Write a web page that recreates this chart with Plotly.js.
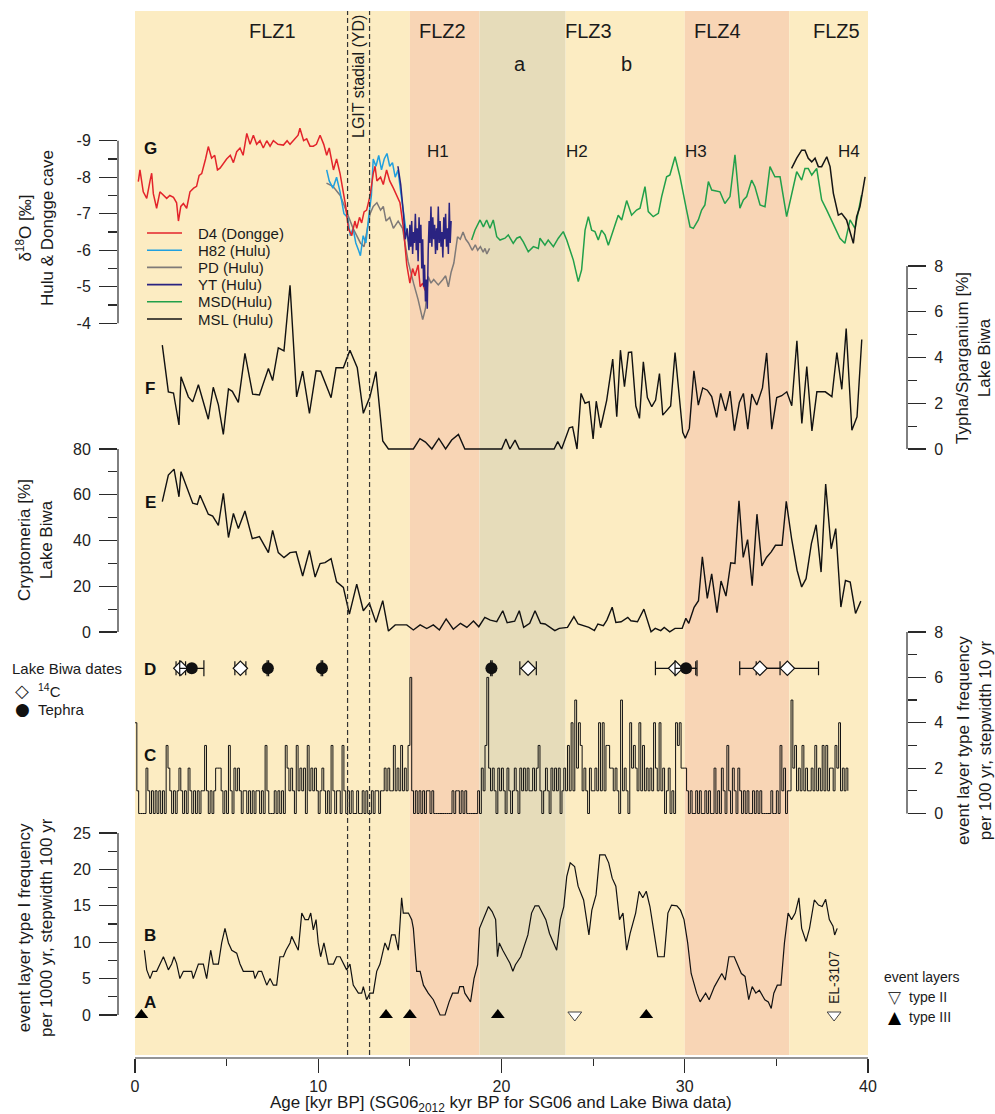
<!DOCTYPE html>
<html><head><meta charset="utf-8">
<script src="https://cdn.plot.ly/plotly-3.0.1.min.js"></script>
<style>body{margin:0;background:#fff}#chart{width:995px;height:1114px}</style>
</head><body><div id="chart"></div>
<script>
// ---------------- DATA ----------------
// Panel G: delta18O (per mil), [age kyr BP, value]
const d4Dongge = [[0.18,-7.88],[0.27,-8.2],[0.45,-7.6],[0.64,-7.42],[0.82,-7.9],[0.91,-8.11],[1.0,-7.55],[1.18,-7.15],[1.36,-7.6],[1.55,-7.5],[1.73,-7.42],[1.9,-7.5],[2.1,-7.45],[2.27,-7.3],[2.37,-6.8],[2.5,-7.2],[2.64,-7.28],[2.82,-7.15],[3.0,-7.6],[3.2,-7.7],[3.36,-7.75],[3.5,-8.05],[3.64,-8.1],[3.85,-8.5],[4.0,-8.84],[4.18,-8.52],[4.35,-8.6],[4.5,-8.2],[4.64,-8.25],[5.0,-8.5],[5.2,-8.6],[5.37,-8.4],[5.55,-8.7],[5.73,-8.8],[5.9,-8.6],[6.1,-9.2],[6.28,-8.9],[6.46,-9.15],[6.64,-8.9],[6.82,-9.0],[7.0,-8.8],[7.19,-9.0],[7.37,-8.85],[7.55,-9.0],[7.8,-8.9],[8.1,-8.88],[8.3,-9.0],[8.46,-8.9],[8.7,-9.05],[8.9,-9.15],[9.0,-9.34],[9.2,-9.0],[9.37,-9.05],[9.55,-8.85],[9.73,-8.85],[9.9,-8.9],[10.1,-9.15],[10.3,-8.9],[10.46,-8.6],[10.6,-8.8],[10.83,-8.2],[11.0,-8.5],[11.19,-8.1],[11.37,-7.6],[11.5,-7.2],[11.64,-6.6],[11.83,-6.4],[12.0,-6.8],[12.1,-6.6],[12.25,-6.9],[12.37,-6.75],[12.5,-7.05],[12.64,-7.1],[12.83,-7.5],[13.0,-8.1],[13.1,-8.3],[13.2,-7.9],[13.4,-8.0],[13.55,-7.8],[13.73,-8.2],[13.9,-7.9],[14.1,-7.7],[14.3,-7.5],[14.46,-7.3],[14.65,-6.6],[14.83,-5.6],[15.0,-5.1],[15.15,-5.5],[15.28,-5.3],[15.45,-5.6],[15.56,-5.0],[15.7,-5.1],[15.83,-4.9]];
const h82Hulu = [[10.46,-8.2],[10.6,-7.9],[10.8,-7.7],[11.0,-8.0],[11.19,-7.6],[11.4,-7.0],[11.6,-6.9],[11.75,-6.4],[11.9,-6.6],[12.05,-6.2],[12.2,-6.0],[12.3,-5.85],[12.45,-6.4],[12.6,-6.2],[12.75,-6.9],[12.9,-7.5],[13.0,-8.5],[13.15,-8.3],[13.3,-8.6],[13.45,-8.2],[13.6,-8.5],[13.75,-8.65],[13.9,-8.3],[14.05,-8.4],[14.2,-8.0],[14.35,-8.2],[14.5,-7.6],[14.65,-7.0],[14.8,-6.5],[15.0,-6.1]];
const pdHulu = [[10.45,-7.84],[10.8,-7.75],[11.2,-7.5],[11.6,-7.0],[11.9,-6.6],[12.3,-6.2],[12.5,-6.1],[12.65,-6.5],[12.83,-7.0],[13.0,-7.2],[13.2,-7.3],[13.4,-7.1],[13.55,-7.2],[13.7,-6.8],[13.9,-6.9],[14.1,-6.6],[14.36,-6.8],[14.6,-6.6],[14.9,-5.7],[15.2,-5.1],[15.45,-4.65],[15.7,-4.1],[15.85,-4.4],[16.0,-5.28],[16.15,-5.1],[16.3,-5.2],[16.55,-5.05],[16.8,-5.2],[16.95,-5.3],[17.1,-5.0],[17.25,-5.4],[17.4,-5.65],[17.6,-6.37],[17.75,-6.3],[17.9,-6.5],[18.05,-6.3],[18.2,-6.2],[18.4,-6.0],[18.57,-6.15],[18.7,-6.0],[18.85,-6.1],[19.0,-5.95],[19.1,-6.05],[19.2,-5.9],[19.35,-6.05]];
const ytHulu = [[14.35,-8.3],[14.5,-7.8],[14.65,-7.0],[14.75,-6.3],[14.85,-6.6],[14.95,-6.0],[15.0,-6.7],[15.05,-6.1],[15.1,-6.8],[15.15,-5.9],[15.2,-6.5],[15.25,-6.2],[15.3,-7.0],[15.35,-6.0],[15.4,-6.6],[15.45,-5.7],[15.5,-6.9],[15.55,-6.2],[15.6,-6.7],[15.65,-5.5],[15.7,-6.3],[15.75,-5.0],[15.8,-5.6],[15.85,-4.6],[15.9,-5.2],[15.95,-4.4],[16.0,-6.0],[16.05,-6.8],[16.1,-6.2],[16.15,-7.2],[16.2,-6.1],[16.25,-6.9],[16.3,-6.3],[16.35,-6.7],[16.4,-5.9],[16.45,-6.6],[16.5,-6.0],[16.55,-7.2],[16.6,-6.2],[16.65,-6.8],[16.7,-6.1],[16.75,-6.5],[16.8,-5.8],[16.85,-6.9],[16.9,-6.3],[16.95,-7.0],[17.0,-6.1],[17.05,-6.6],[17.1,-5.9],[17.15,-7.3],[17.2,-6.2],[17.25,-6.8]];
const msdHulu = [[18.37,-6.28],[18.55,-6.55],[18.83,-6.83],[19.01,-6.64],[19.19,-6.83],[19.37,-6.6],[19.55,-6.83],[19.74,-6.37],[19.92,-6.28],[20.19,-6.33],[20.37,-6.42],[20.64,-6.19],[20.83,-6.33],[21.01,-6.37],[21.19,-6.23],[21.46,-5.96],[21.74,-6.1],[22.01,-6.05],[22.1,-6.33],[22.37,-6.14],[22.55,-6.28],[22.83,-6.1],[23.1,-6.33],[23.37,-6.51],[23.56,-6.28],[23.92,-5.73],[24.19,-5.14],[24.37,-5.46],[24.56,-6.55],[24.74,-6.92],[24.92,-6.55],[25.1,-6.51],[25.28,-6.28],[25.46,-6.55],[25.65,-6.42],[25.83,-6.14],[26.1,-6.55],[26.37,-6.96],[26.56,-6.83],[26.83,-7.36],[27.1,-6.96],[27.37,-7.1],[27.56,-7.15],[27.83,-7.74],[28.01,-7.06],[28.28,-6.92],[28.56,-7.01],[28.74,-7.47],[29.01,-8.01],[29.19,-8.06],[29.47,-8.56],[29.74,-8.01],[30.1,-7.1],[30.29,-6.64],[30.47,-6.6],[30.74,-6.83],[30.92,-7.1],[31.1,-7.24],[31.29,-7.88],[31.47,-7.65],[31.92,-7.6],[32.19,-7.28],[32.47,-7.47],[32.74,-8.61],[33.01,-7.15],[33.2,-7.38],[33.38,-7.47],[33.65,-7.92],[33.83,-7.74],[34.11,-7.24],[34.38,-7.19],[34.65,-8.29],[34.92,-8.01],[35.2,-8.01],[35.56,-6.92],[35.83,-7.56],[36.11,-8.15],[36.38,-7.92],[36.56,-8.24],[36.74,-8.24],[36.93,-8.06],[37.2,-8.24],[37.47,-7.38],[37.75,-7.1],[38.11,-6.69],[38.47,-6.33],[38.74,-6.19],[39.02,-6.83],[39.29,-6.6],[39.65,-7.51]];
const mslHulu = [[35.83,-8.24],[36.11,-8.52],[36.38,-8.74],[36.56,-8.74],[36.74,-8.52],[36.93,-8.42],[37.11,-8.52],[37.29,-8.29],[37.47,-8.29],[37.75,-8.56],[37.93,-8.29],[38.11,-7.56],[38.38,-6.96],[38.56,-7.01],[38.83,-6.83],[39.2,-6.19],[39.38,-6.92],[39.56,-7.19],[39.84,-8.01]];

// Panel F: Typha/Sparganium [%] Lake Biwa
const typha = [[1.49,4.54],[1.82,2.5],[2.1,2.45],[2.4,1.05],[2.51,3.16],[2.91,2.28],[3.15,2.06],[3.46,2.81],[4.0,1.3],[4.27,2.7],[4.55,1.93],[4.82,0.64],[5.1,2.63],[5.31,2.52],[5.64,2.04],[6.0,4.18],[6.42,2.4],[6.79,2.36],[7.28,3.52],[7.51,2.99],[7.82,4.42],[8.13,4.29],[8.46,7.16],[8.82,2.28],[9.15,3.4],[9.52,1.56],[9.88,3.42],[10.13,3.4],[10.7,2.24],[10.97,3.55],[11.37,3.55],[11.73,4.32],[12.13,3.55],[12.46,1.56],[12.82,2.28],[13.15,3.38],[13.52,0.35],[13.83,0],[15.19,0],[15.55,0.45],[15.85,0.3],[16.2,0],[16.58,0.46],[16.95,0],[17.28,0.39],[17.65,0.64],[18.0,0],[20.01,0],[20.24,0.44],[20.46,0],[20.74,0.39],[20.97,0],[22.87,0],[23.07,0.32],[23.28,0],[23.7,0.93],[23.88,0.97],[24.12,0],[24.34,2.43],[24.56,2.0],[24.78,2.07],[25.0,0.44],[25.17,2.09],[25.41,0.93],[25.74,2.13],[26.07,3.93],[26.29,1.41],[26.49,4.32],[26.71,2.72],[26.93,4.22],[27.1,4.24],[27.33,1.88],[27.53,1.34],[27.74,3.81],[27.96,2.25],[28.2,1.85],[28.41,2.14],[28.62,3.3],[28.8,1.48],[29.23,1.88],[29.47,4.22],[29.89,0.73],[30.03,0.47],[30.25,0.9],[30.5,3.42],[30.74,1.92],[30.98,2.67],[31.23,2.57],[31.47,2.29],[31.74,1.38],[31.96,2.43],[32.23,1.67],[32.47,2.53],[32.71,0.8],[32.98,2.03],[33.2,2.43],[33.44,0.87],[33.66,2.4],[33.93,1.92],[34.24,2.67],[34.47,4.2],[34.75,0.87],[35.02,2.25],[35.29,2.33],[35.57,2.5],[35.84,1.89],[36.12,4.73],[36.39,1.12],[36.66,3.6],[36.94,0.79],[37.21,2.5],[37.67,2.5],[38.03,2.29],[38.3,4.22],[38.57,2.61],[38.81,5.27],[39.12,0.82],[39.4,1.41],[39.66,4.79]];

// Panel E: Cryptomeria [%] Lake Biwa
const cryptomeria = [[1.49,57.0],[1.82,68.6],[2.13,71.2],[2.4,59.1],[2.51,70.1],[2.78,64.6],[3.15,56.3],[3.4,55.8],[3.55,59.8],[4.0,51.5],[4.24,50.7],[4.55,46.6],[4.82,60.6],[5.1,41.3],[5.37,51.8],[5.64,45.2],[6.0,52.9],[6.4,40.8],[6.79,41.7],[7.28,34.7],[7.51,44.4],[7.82,34.7],[8.13,32.5],[8.46,34.7],[8.79,35.1],[9.15,24.5],[9.52,35.7],[9.83,24.0],[10.1,29.9],[10.37,30.3],[10.7,32.1],[11.0,21.9],[11.37,19.5],[11.7,7.8],[12.1,20.9],[12.46,9.3],[12.79,12.6],[13.15,4.2],[13.52,13.7],[13.83,0.4],[14.2,3.1],[14.83,3.1],[15.19,0.9],[15.56,3.1],[15.92,1.5],[16.28,3.1],[16.61,0.9],[16.98,5.7],[17.37,1.2],[17.76,3.8],[18.11,2.0],[18.47,4.8],[18.76,2.3],[19.09,6.4],[19.39,5.2],[19.74,4.5],[20.07,9.3],[20.31,4.1],[20.72,4.7],[20.97,9.3],[21.21,2.0],[21.54,3.8],[21.83,9.3],[22.13,3.8],[22.38,3.5],[22.91,0.6],[23.15,1.6],[23.6,2.0],[23.95,6.7],[24.18,3.5],[24.77,2.0],[25.07,0.6],[25.26,3.5],[25.56,2.8],[25.75,5.2],[26.04,10.8],[26.24,4.2],[26.53,4.5],[26.89,6.4],[27.06,4.9],[27.42,4.5],[27.77,10.0],[28.16,0.1],[28.39,1.6],[28.69,0.6],[28.88,2.0],[29.18,0.1],[29.47,1.6],[29.86,1.6],[30.06,6.0],[30.22,3.8],[30.51,10.8],[30.75,13.7],[30.96,32.9],[31.23,14.7],[31.47,25.4],[31.76,8.5],[31.98,22.3],[32.25,15.7],[32.51,30.3],[32.74,30.0],[32.96,57.4],[33.19,32.6],[33.43,40.4],[33.68,20.2],[33.94,51.5],[34.21,28.9],[34.46,32.6],[34.72,35.0],[34.95,37.9],[35.31,37.9],[35.54,57.1],[35.83,40.8],[36.13,27.0],[36.38,19.7],[36.62,23.3],[36.91,38.6],[37.17,46.9],[37.44,26.2],[37.69,64.7],[37.99,36.4],[38.24,45.2],[38.52,10.9],[38.77,22.5],[39.03,21.8],[39.32,8.1],[39.61,13.5]];

// Panel D: Lake Biwa dates (age, error kyr)
const c14Age = [2.5, 5.75, 21.45, 29.5, 34.1, 35.6];
const c14Err = [0.26, 0.3, 0.45, 1.1, 1.1, 1.7];
const tephraAge = [3.1, 7.25, 10.2, 19.45, 30.07];
const tephraErr = [0.66, 0.04, 0.04, 0.04, 0.6];
const datesLevel = 6.4; // plotted level on panel C/D scale

// Panel C: event layer type I frequency per 100 yr (stepwidth 10 yr, shown at 0.1 kyr)
const cStart = 0.0, cStep = 0.1;
const freq100 = [
 4,1,0,0,0,0,2,1,0,1, 0,1,0,1,0,1,0,3,2,1, 0,1,0,1,2,1,0,1,0,2, 1,0,1,0,1,0,1,1,3,1,
 0,1,0,1,2,2,2,1,0,1, 0,3,1,0,2,1,2,1,0,1, 1,0,1,0,1,0,1,1,0,1, 0,3,1,0,0,0,1,0,1,0,
 1,0,3,2,1,2,1,0,3,1, 2,1,2,0,3,1,2,1,2,1, 0,1,2,1,0,1,0,3,1,0, 1,1,0,3,1,0,1,0,1,0,
 0,1,0,0,1,0,1,0,0,1, 0,1,1,0,1,1,2,1,2,1, 1,3,1,2,1,3,1,2,1,3, 6,1,0,1,0,1,0,1,0,1,
 1,0,1,0,0,0,0,0,0,0, 0,0,0,1,0,1,1,0,1,0, 1,0,0,0,0,0,0,1,0,2, 1,3,6,2,1,2,1,0,2,1,
 2,1,0,2,1,0,1,2,1,0, 2,1,2,1,2,1,1,2,1,2, 3,1,0,1,2,1,0,2,1,2, 1,2,0,1,2,1,3,1,4,1,
 5,2,4,3,1,2,1,0,2,1, 1,2,1,4,1,4,1,3,3,2, 2,1,2,1,0,5,1,2,1,0, 4,2,3,2,1,4,1,3,1,2,
 1,2,1,4,2,1,4,1,2,0, 1,2,0,1,0,4,3,4,2,2, 2,1,0,1,0,0,1,0,1,0, 0,1,0,1,0,0,2,0,1,0,
 2,1,0,3,1,0,2,1,0,2, 1,0,1,0,1,0,0,1,0,1, 0,1,0,0,0,0,0,1,0,0, 1,0,3,1,2,0,1,1,5,2,
 3,1,2,1,3,1,2,1,1,2, 1,3,1,2,1,3,1,3,1,2, 2,1,3,2,4,1,2,1,2,1];

// Panel B: event layer type I frequency per 1000 yr (stepwidth 100 yr)
const freq1000 = [[0.51,8.9],[0.64,6.2],[0.82,5.0],[0.97,6.0],[1.18,6.0],[1.36,7.1],[1.55,8.0],[1.69,7.1],[1.82,6.2],[2.0,7.0],[2.13,8.0],[2.27,7.1],[2.45,5.0],[2.64,6.0],[3.09,6.0],[3.18,5.0],[3.46,7.0],[3.73,7.0],[3.91,5.0],[4.13,8.9],[4.27,7.0],[4.55,7.0],[4.73,9.9],[4.91,11.9],[5.1,9.9],[5.28,8.9],[5.55,8.5],[5.73,7.0],[5.91,6.0],[6.46,6.0],[6.55,5.0],[6.73,6.0],[6.91,6.0],[7.19,4.1],[7.37,5.0],[7.55,4.1],[7.73,4.1],[7.91,8.0],[8.1,8.0],[8.24,8.9],[8.46,9.9],[8.55,10.8],[8.73,9.9],[8.91,8.9],[9.1,14.0],[9.28,13.1],[9.46,13.1],[9.59,14.0],[9.73,11.7],[9.88,13.1],[10.0,9.9],[10.13,8.0],[10.31,9.9],[10.55,7.0],[10.83,7.0],[11.0,8.0],[11.19,8.0],[11.37,7.0],[11.55,6.2],[11.73,7.0],[11.91,4.1],[12.19,3.0],[12.37,3.0],[12.46,3.9],[12.64,2.1],[12.82,3.0],[13.0,3.0],[13.19,6.0],[13.37,7.0],[13.64,9.9],[13.82,8.9],[14.0,11.0],[14.19,11.0],[14.37,8.9],[14.55,16.1],[14.64,14.0],[14.92,14.0],[15.1,13.1],[15.19,11.9],[15.37,6.0],[15.56,6.0],[15.74,4.1],[16.0,3.0],[16.28,2.1],[16.65,0],[16.92,0],[17.14,1.8],[17.33,3.0],[17.63,3.0],[17.72,3.9],[17.92,3.9],[18.0,3.0],[18.31,1.8],[18.5,5.0],[18.7,6.9],[18.8,11.9],[19.0,13.1],[19.29,14.9],[19.49,14.2],[19.68,13.1],[19.78,8.0],[19.88,9.9],[20.07,8.9],[20.27,8.0],[20.46,7.1],[20.62,6.0],[20.76,6.9],[21.05,8.0],[21.25,9.4],[21.44,11.0],[21.64,14.0],[21.83,15.0],[22.03,15.0],[22.23,14.0],[22.42,13.1],[22.62,11.2],[22.81,10.1],[23.01,8.9],[23.21,13.1],[23.4,14.9],[23.56,19.0],[23.75,20.9],[23.99,20.4],[24.18,17.7],[24.48,15.8],[24.77,11.0],[24.93,14.4],[25.16,16.5],[25.36,22.0],[25.65,22.0],[25.85,20.9],[26.04,18.8],[26.24,17.7],[26.44,13.1],[26.63,14.0],[26.83,8.9],[27.02,11.2],[27.32,14.0],[27.51,17.0],[27.71,16.1],[27.9,17.0],[28.1,14.9],[28.3,11.7],[28.53,8.0],[28.88,8.0],[29.08,14.0],[29.28,15.1],[29.57,15.0],[29.77,14.4],[29.96,13.1],[30.16,9.9],[30.35,5.7],[30.65,3.0],[30.84,1.8],[31.14,3.0],[31.33,2.1],[31.62,3.9],[31.82,4.8],[32.02,5.7],[32.21,4.8],[32.41,8.0],[32.7,8.0],[32.9,6.9],[33.09,5.7],[33.29,5.3],[33.49,2.1],[33.68,3.9],[33.88,3.0],[34.07,3.4],[34.37,2.1],[34.56,1.8],[34.72,0.9],[34.86,3.0],[35.05,4.1],[35.25,4.1],[35.44,9.9],[35.64,14.0],[35.83,13.1],[36.03,14.0],[36.23,16.1],[36.38,11.9],[36.62,10.1],[36.81,11.9],[37.07,15.8],[37.3,15.1],[37.5,14.9],[37.69,15.9],[37.89,13.1],[38.09,12.2],[38.18,11.0],[38.32,11.9]];

// Panel A: event layers
const typeIIAge = [24.0, 38.15];
const typeIIIAge = [0.35, 13.7, 15.0, 19.8, 27.9];

// Zones and YD
const zoneNames = ['FLZ1','FLZ2','FLZ3','FLZ4','FLZ5'];
const zoneEdges = [0, 15.0, 18.8, 23.5, 30.0, 35.7, 40];
const ydBounds = [11.6, 12.8];
const xTicks = [0, 10, 20, 30, 40];
const xMinorTicks = [5, 15, 25, 35];

// ---------------- LAYOUT HELPERS ----------------
const FONT = 'Liberation Sans, Arial, Helvetica, sans-serif';
const PL = 118, PR = 907, PT = 11, PB = 1058;
const W = PR - PL, H = PB - PT;
const px = x => (x - PL) / W;
const py = y => (PB - y) / H;
function yRange(v0, p0, v1, p1) { const s = (p1 - p0) / (v1 - v0); return [v0 + (PB - p0) / s, v0 + (PT - p0) / s]; }
function xRange(v0, p0, v1, p1) { const s = (p1 - p0) / (v1 - v0); return [v0 + (PL - p0) / s, v0 + (PR - p0) / s]; }
const TICKC = '#2a2a2a';
function yax(o) {
  return Object.assign({
    showgrid: false, zeroline: false, showline: false, ticks: 'outside', ticklen: 18, tickwidth: 1.2,
    tickcolor: TICKC, tickfont: { family: FONT, size: 16, color: '#222' }, ticklabelstandoff: 5,
    fixedrange: true, automargin: false, tickmode: 'array', anchor: 'x'
  }, o);
}
function minor(vals, len) { return { tickmode: 'array', tickvals: vals, ticks: 'outside', ticklen: len || 9, tickwidth: 1.2, tickcolor: TICKC, showgrid: false }; }
const X = a => a.map(p => p[0]), Y = a => a.map(p => p[1]);

// ---------------- TRACES ----------------
const gSeries = [
  { name: 'PD (Hulu)', d: pdHulu, c: '#7f7a78' },
  { name: 'H82 (Hulu)', d: h82Hulu, c: '#1fa0df' },
  { name: 'D4 (Dongge)', d: d4Dongge, c: '#e3242b' },
  { name: 'YT (Hulu)', d: ytHulu, c: '#2a2381' },
  { name: 'MSD(Hulu)', d: msdHulu, c: '#21a04a' },
  { name: 'MSL (Hulu)', d: mslHulu, c: '#151515' }
];
const traces = [];
gSeries.forEach(s => traces.push({ type: 'scatter', mode: 'lines', x: X(s.d), y: Y(s.d), xaxis: 'x', yaxis: 'y', line: { color: s.c, width: 1.5 }, hoverinfo: 'skip' }));
traces.push({ type: 'scatter', mode: 'lines', x: X(typha), y: Y(typha), yaxis: 'y2', line: { color: '#111', width: 1.4 }, hoverinfo: 'skip' });
traces.push({ type: 'scatter', mode: 'lines', x: X(cryptomeria), y: Y(cryptomeria), yaxis: 'y3', line: { color: '#111', width: 1.4 }, hoverinfo: 'skip' });
traces.push({ type: 'scatter', mode: 'lines', x: freq100.map((v, i) => cStart + i * cStep), y: freq100, yaxis: 'y4', line: { color: '#111', width: 1, shape: 'hv' }, hoverinfo: 'skip' });
traces.push({ type: 'scatter', mode: 'markers', x: c14Age, y: c14Age.map(() => datesLevel), yaxis: 'y4', cliponaxis: false,
  marker: { symbol: 'diamond', size: 11, color: '#ffffff', line: { color: '#111', width: 1.2 } },
  error_x: { type: 'data', array: c14Err, color: '#111', thickness: 1.2, width: 7 }, hoverinfo: 'skip' });
traces.push({ type: 'scatter', mode: 'markers', x: tephraAge, y: tephraAge.map(() => datesLevel), yaxis: 'y4', cliponaxis: false,
  marker: { symbol: 'circle', size: 12, color: '#111' },
  error_x: { type: 'data', array: tephraErr, color: '#111', thickness: 1.2, width: 8 }, hoverinfo: 'skip' });
traces.push({ type: 'scatter', mode: 'lines', x: X(freq1000), y: Y(freq1000), yaxis: 'y5', line: { color: '#111', width: 1.2 }, hoverinfo: 'skip' });
traces.push({ type: 'scatter', mode: 'markers', x: typeIIIAge, y: typeIIIAge.map(() => 0), yaxis: 'y5', cliponaxis: false,
  marker: { symbol: 'triangle-up', size: 12, color: '#000' }, hoverinfo: 'skip' });
traces.push({ type: 'scatter', mode: 'markers', x: typeIIAge, y: typeIIAge.map(() => 0), yaxis: 'y5', cliponaxis: false,
  marker: { symbol: 'triangle-down', size: 12, color: '#ffffff', line: { color: '#444', width: 1 } }, hoverinfo: 'skip' });

// ---------------- SHAPES ----------------
const zoneColors = ['#fcecc2', '#f8d5b5', '#e6dcba', '#fcecc2', '#f8d5b5', '#fcecc2'];
const shapes = [];
for (let i = 0; i < zoneEdges.length - 1; i++) {
  shapes.push({ type: 'rect', layer: 'below', xref: 'x', yref: 'paper', x0: zoneEdges[i], x1: zoneEdges[i + 1], y0: py(1055), y1: 1, fillcolor: zoneColors[i], line: { width: 0 } });
}
ydBounds.forEach(v => shapes.push({ type: 'line', layer: 'above', xref: 'x', yref: 'paper', x0: v, x1: v, y0: py(1055), y1: 1, line: { color: '#333', width: 1.2, dash: '5px,3px' } }));
const axLine = (yref, a, b, xp) => ({ type: 'line', xref: 'paper', yref, x0: xp, x1: xp, y0: a, y1: b, line: { color: TICKC, width: 1.2 } });
shapes.push(axLine('y', -9, -4, 0));
shapes.push(axLine('y2', 0, 8, 1));
shapes.push(axLine('y3', 0, 80, 0));
shapes.push(axLine('y4', 0, 8, 1));
shapes.push(axLine('y5', 0, 25, 0));
shapes.push({ type: 'line', xref: 'x', yref: 'paper', x0: 0, x1: 40, y0: 0, y1: 0, line: { color: TICKC, width: 1.2 } });
// G legend samples
const legY = [233, 250.2, 267.4, 284.6, 301.8, 319];
const legOrder = [2, 1, 0, 3, 4, 5];
legOrder.forEach((si, k) => shapes.push({ type: 'line', xref: 'paper', yref: 'paper', x0: px(147), x1: px(182), y0: py(legY[k]), y1: py(legY[k]), line: { color: gSeries[si].c, width: 1.6 } }));

// ---------------- ANNOTATIONS ----------------
const ann = [];
function T(text, x, y, o) { ann.push(Object.assign({ text, x: px(x), y: py(y), xref: 'paper', yref: 'paper', showarrow: false, xanchor: 'center', yanchor: 'middle', font: { family: FONT, size: 16, color: '#1a1a1a' } }, o || {})); }
const zoneLabelX = [272, 442, 588, 717, 836];
zoneNames.forEach((n, i) => T(n, zoneLabelX[i], 31, { font: { family: FONT, size: 20, color: '#1a1a1a' } }));
T('a', 520, 64, { font: { family: FONT, size: 20, color: '#1a1a1a' } });
T('b', 626, 64, { font: { family: FONT, size: 20, color: '#1a1a1a' } });
[['H1', 438], ['H2', 577], ['H3', 696], ['H4', 849]].forEach(h => T(h[0], h[1], 152, { font: { family: FONT, size: 17, color: '#1a1a1a' } }));
T('LGIT stadial (YD)', 359, 77, { textangle: -90, font: { family: FONT, size: 16, color: '#1a1a1a' } });
[['G', 150, 149], ['F', 150, 388], ['E', 150, 503], ['D', 150, 669], ['C', 150, 755], ['B', 150, 935], ['A', 150, 1002]].forEach(l => T('<b>' + l[0] + '</b>', l[1], l[2], { font: { family: FONT, size: 17, color: '#111' } }));
legOrder.forEach((si, k) => T(gSeries[si].name, 196, legY[k], { xanchor: 'left', font: { family: FONT, size: 15, color: '#1a1a1a' } }));
const tf = { family: FONT, size: 17, color: '#1a1a1a' };
T('δ<sup>18</sup>O [‰]<br>Hulu &amp; Dongge cave', 35, 228, { textangle: -90, font: tf });
T('Cryptomeria [%]<br>Lake Biwa', 35, 540, { textangle: -90, font: tf });
T('event layer type I frequency<br>per 1000 yr, stepwidth 100 yr', 35, 928, { textangle: -90, font: tf });
T('Typha/Sparganium [%]<br>Lake Biwa', 974, 358, { textangle: -90, font: tf });
T('event layer type I frequency<br>per 100 yr, stepwidth 10 yr', 975, 740, { textangle: -90, font: tf });
T('Age [kyr BP] (SG06<sub>2012</sub> kyr BP for SG06 and Lake Biwa data)', 501, 1104, { font: tf });
T('Lake Biwa dates', 10, 668, { xanchor: 'left', font: { family: FONT, size: 15, color: '#1a1a1a' } });
T('◇', 22, 690, { font: { family: 'DejaVu Sans', size: 18, color: '#1a1a1a' } });
T('<sup>14</sup>C', 36, 690, { xanchor: 'left', font: { family: FONT, size: 15, color: '#1a1a1a' } });
T('●', 22, 709, { font: { family: 'DejaVu Sans', size: 17, color: '#111' } });
T('Tephra', 36, 709, { xanchor: 'left', font: { family: FONT, size: 15, color: '#1a1a1a' } });
T('event layers', 882, 977, { xanchor: 'left', font: { family: FONT, size: 14, color: '#1a1a1a' } });
T('▽', 895, 997, { font: { family: 'DejaVu Sans', size: 17, color: '#333' } });
T('type II', 907, 997, { xanchor: 'left', font: { family: FONT, size: 14, color: '#1a1a1a' } });
T('▲', 895, 1017, { font: { family: 'DejaVu Sans', size: 17, color: '#000' } });
T('type III', 907, 1017, { xanchor: 'left', font: { family: FONT, size: 14, color: '#1a1a1a' } });
T('EL-3107', 834, 978, { textangle: -90, font: { family: FONT, size: 14, color: '#1a1a1a' } });

// ---------------- LAYOUT ----------------
const layout = {
  width: 995, height: 1114,
  margin: { l: PL, r: 995 - PR, t: PT, b: 1114 - PB, pad: 0 },
  paper_bgcolor: '#ffffff', plot_bgcolor: 'rgba(0,0,0,0)',
  showlegend: false,
  font: { family: FONT, color: '#222' },
  xaxis: {
    range: xRange(0, 135, 40, 868), showgrid: false, zeroline: false, showline: false,
    tickmode: 'array', tickvals: xTicks, ticks: 'outside', ticklen: 14, tickwidth: 1.2, tickcolor: TICKC,
    tickfont: { family: FONT, size: 16, color: '#222' }, ticklabelstandoff: 0, minor: minor(xMinorTicks, 7), fixedrange: true, automargin: false
  },
  yaxis: yax({ range: yRange(-9, 140.7, -4, 323.3), tickvals: [-9, -8, -7, -6, -5, -4], ticktext: ['-9', '-8', '-7', '-6', '-5', '-4'], minor: minor([-8.5, -7.5, -6.5, -5.5, -4.5]), side: 'left' }),
  yaxis2: yax({ overlaying: 'y', side: 'right', range: yRange(0, 449, 8, 266), tickvals: [0, 2, 4, 6, 8], minor: minor([1, 3, 5, 7]) }),
  yaxis3: yax({ overlaying: 'y', side: 'left', range: yRange(0, 632, 80, 449), tickvals: [0, 20, 40, 60, 80], minor: minor([10, 30, 50, 70]) }),
  yaxis4: yax({ overlaying: 'y', side: 'right', range: yRange(0, 813.5, 8, 632), tickvals: [0, 2, 4, 6, 8], minor: minor([1, 3, 5, 7]) }),
  yaxis5: yax({ overlaying: 'y', side: 'left', range: yRange(0, 1015, 25, 833), tickvals: [0, 5, 10, 15, 20, 25], minor: minor([2.5, 7.5, 12.5, 17.5, 22.5]) }),
  shapes, annotations: ann
};
Plotly.newPlot('chart', traces, layout, { staticPlot: true, displayModeBar: false });
</script></body></html>
